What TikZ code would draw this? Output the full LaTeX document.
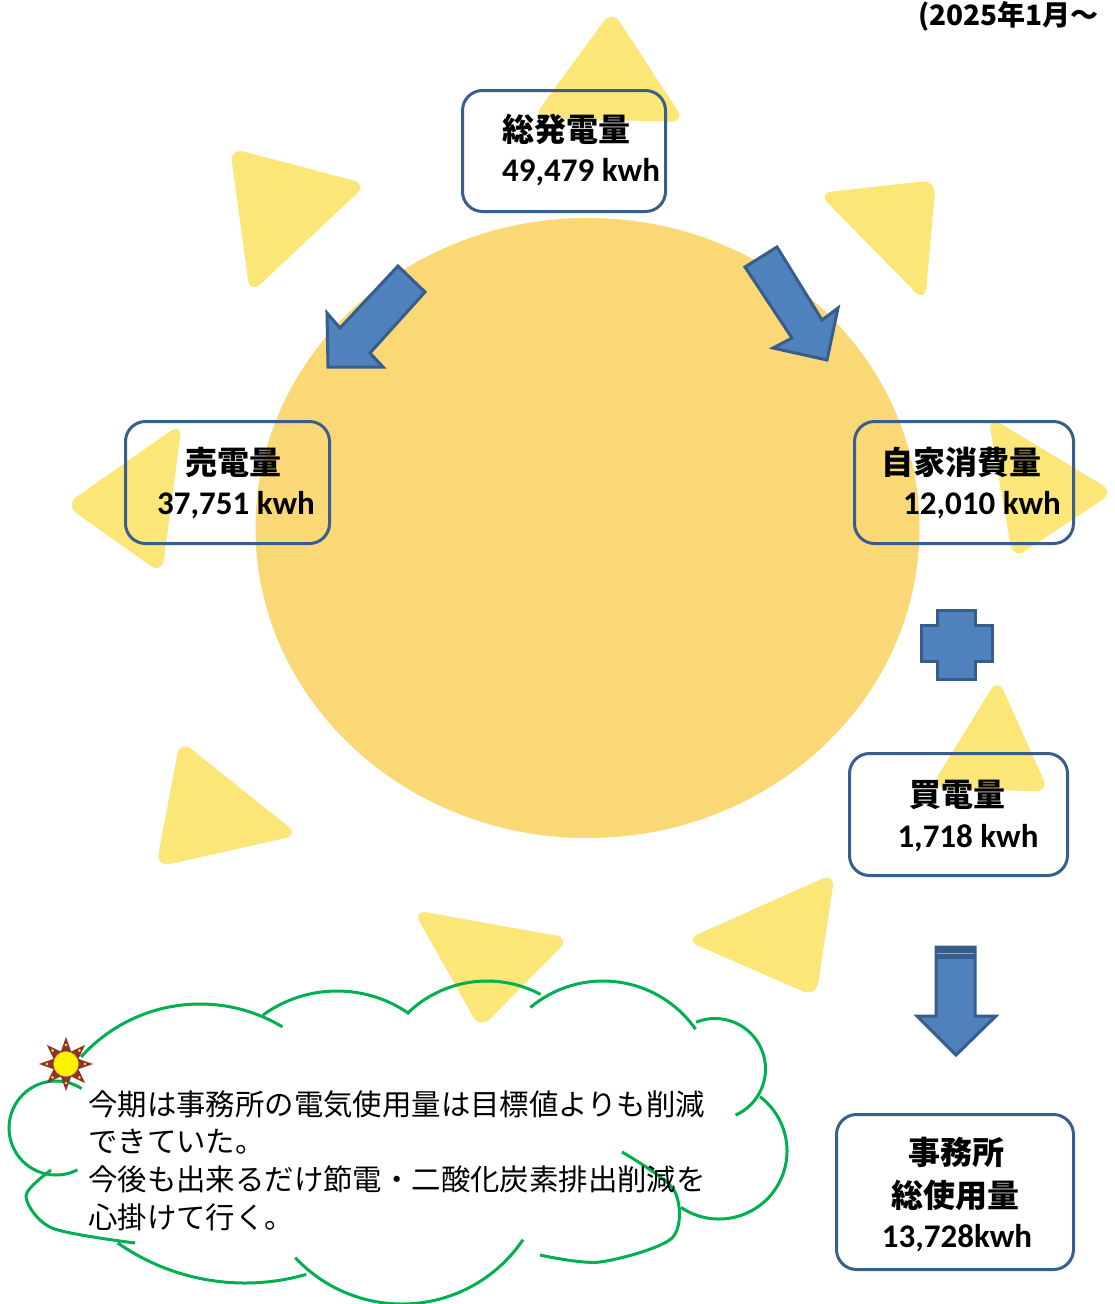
\documentclass[tikz,border=0pt]{standalone}
\usepackage{fontspec}
\usepackage{xcolor}
\usepackage{tikz}
\usetikzlibrary{shapes.geometric}
\setmainfont{Noto Sans CJK JP}
\newfontfamily\numfont{Carlito}
\definecolor{suncolor}{RGB}{250,216,118}
\definecolor{raycolor}{RGB}{252,230,120}
\definecolor{framecolor}{RGB}{58,94,140}
\definecolor{arrowcolor}{RGB}{79,129,189}
\definecolor{arrowedge}{RGB}{56,93,138}
\definecolor{cloudcolor}{RGB}{0,176,80}
\definecolor{starcolor}{RGB}{142,52,48}

\begin{document}
\begin{tikzpicture}[
    x=1pt, y=-1pt,
    box/.style={draw=framecolor, line width=3pt, rounded corners=20pt, inner sep=0pt},
    boxtitle/.style={font=\fontsize{32}{36}\selectfont\bfseries, inner sep=0pt},
    boxvalue/.style={font=\numfont\fontsize{33}{36}\selectfont\bfseries, inner sep=0pt},
    ray/.style={fill=raycolor, rounded corners=14pt},
    blockarrow/.style={fill=arrowcolor, draw=arrowedge, line width=3pt, line join=miter},
    bump/.style={draw=cloudcolor, line width=3pt}
]
    \fill[white] (0,0) rectangle (1114,1304);
    \useasboundingbox (0,0) rectangle (1114,1304);

    % Period in the top corner
    \node[font=\fontsize{28}{30}\selectfont\bfseries, anchor=west, inner sep=0pt] (period) at (918,16) {(2025年1月～};

    % Sun rays
    \fill[ray] (612,10) -- (533,118) -- (685,122) -- cycle;    % top
    \fill[ray] (230,148) -- (367,184) -- (250,294) -- cycle;   % top left
    \fill[ray] (818,193) -- (936,180) -- (925,302) -- cycle;   % top right
    \fill[ray] (65,505) -- (182,423) -- (162,574) -- cycle;    % left
    \fill[ray] (988,416) -- (1114,492) -- (1013,559) -- cycle; % right
    \fill[ray] (998,678) -- (931,787) -- (1049,792) -- cycle;  % lower right
    \fill[ray] (835,873) -- (685,940) -- (816,997) -- cycle;   % bottom right
    \fill[ray] (413,910) -- (570,938) -- (480,1029) -- cycle;  % bottom
    \fill[ray] (180,740) -- (299,835) -- (156,867) -- cycle;   % bottom left

    % Sun body
    \node[ellipse, fill=suncolor, minimum width=664pt, minimum height=620pt, inner sep=0pt] (sun) at (587.5,528) {};

    % Boxes
    \node[box, minimum width=203pt, minimum height=121pt] (gen) at (564,151) {};
    \node[box, minimum width=204pt, minimum height=122pt] (sell) at (227.5,482.5) {};
    \node[box, minimum width=219pt, minimum height=122pt] (self) at (964,482.5) {};
    \node[box, minimum width=218pt, minimum height=122pt] (buy) at (958.5,814.5) {};
    \node[box, minimum width=237pt, minimum height=155pt] (total) at (955,1192) {};

    % Box texts
    \node[boxtitle, anchor=west] (gentitle) at (502,129) {総発電量};
    \node[boxvalue, anchor=west] (genvalue) at (502,172) {49,479 kwh};
    \node[boxtitle] (selltitle) at (233,462) {売電量};
    \node[boxvalue] (sellvalue) at (236,505) {37,751 kwh};
    \node[boxtitle] (selftitle) at (961,462) {自家消費量};
    \node[boxvalue] (selfvalue) at (982,505) {12,010 kwh};
    \node[boxtitle] (buytitle) at (957,795) {買電量};
    \node[boxvalue] (buyvalue) at (968,838) {1,718 kwh};
    \node[boxtitle] (totaltitle) at (956,1152) {事務所};
    \node[boxtitle] (totalsub) at (955,1195) {総使用量};
    \node[boxvalue] (totalvalue) at (957,1238) {13,728kwh};

    % Block arrows
    \draw[blockarrow] (398,266) -- (425,292) -- (370,353) -- (383,367) -- (328,367) -- (327,313) -- (340,328) -- cycle;
    \draw[blockarrow] (745,267) -- (777,247) -- (822,320) -- (838,308) -- (827,360) -- (773,348) -- (792,338) -- cycle;
    \draw[blockarrow] (937,610) -- (975,610) -- (975,625) -- (992,625) -- (992,661) -- (975,661) -- (975,679) -- (937,679) -- (937,661) -- (921,661) -- (921,625) -- (937,625) -- cycle;
    \draw[blockarrow] (936,947) -- (975,947) -- (975,1016) -- (996,1016) -- (956,1055) -- (917,1016) -- (936,1016) -- cycle;
    \fill[arrowedge] (936,946) rectangle (975,959);
    \draw[arrowcolor!70, line width=1.2pt] (937,953.5) -- (974,953.5);

    % Cloud outline, one arc per bump
    \draw[bump] (200,1164) ++(-138:160) arc[start angle=-138, end angle=-59, radius=160];
    \draw[bump] (337,1117) ++(-126:126) arc[start angle=-126, end angle=-55, radius=126];
    \draw[bump] (487,1095) ++(-134:114) arc[start angle=-134, end angle=-62, radius=114];
    \draw[bump] (603,1094) ++(-130:113) arc[start angle=-130, end angle=-35, radius=113];
    \draw[bump] (715,1069) ++(-112:50.5) arc[start angle=-112, end angle=66, radius=50.5];
    \draw[bump] (719,1151) ++(-53:68) arc[start angle=-53, end angle=124, radius=68];
    \draw[bump] plot[smooth] coordinates {(622,1152) (674,1190) (672,1238) (600,1262) (540,1255)};
    \draw[bump] (402,1158) ++(34:146) arc[start angle=34, end angle=137, radius=146];
    \draw[bump] (245,1061) ++(74:222) arc[start angle=74, end angle=125, radius=222];
    \draw[bump] plot[smooth] coordinates {(135,1243) (52,1228) (26,1196) (51,1170)};
    \draw[bump] (56,1128) ++(63:47) arc[start angle=63, end angle=303, radius=47];

    % Message
    \node[font=\fontsize{29.4}{37.7}\selectfont, align=left, anchor=north west, inner sep=0pt] (note) at (88,1090)
        {今期は事務所の電気使用量は目標値よりも削減\\できていた。\\今後も出来るだけ節電・二酸化炭素排出削減を\\心掛けて行く。};

    % Small flower on the cloud
    \node[star, star points=8, star point ratio=2, minimum size=54pt, inner sep=0pt, fill=starcolor] (flower) at (66,1064) {};
    \node[circle, minimum size=25pt, inner sep=0pt, fill=yellow, draw=yellow!70!black, line width=0.6pt] (flowercore) at (flower) {};
    \foreach \a in {0,45,...,315}
        \fill[yellow] (flower.center) ++(\a:19) circle (1.4);
\end{tikzpicture}
\end{document}
